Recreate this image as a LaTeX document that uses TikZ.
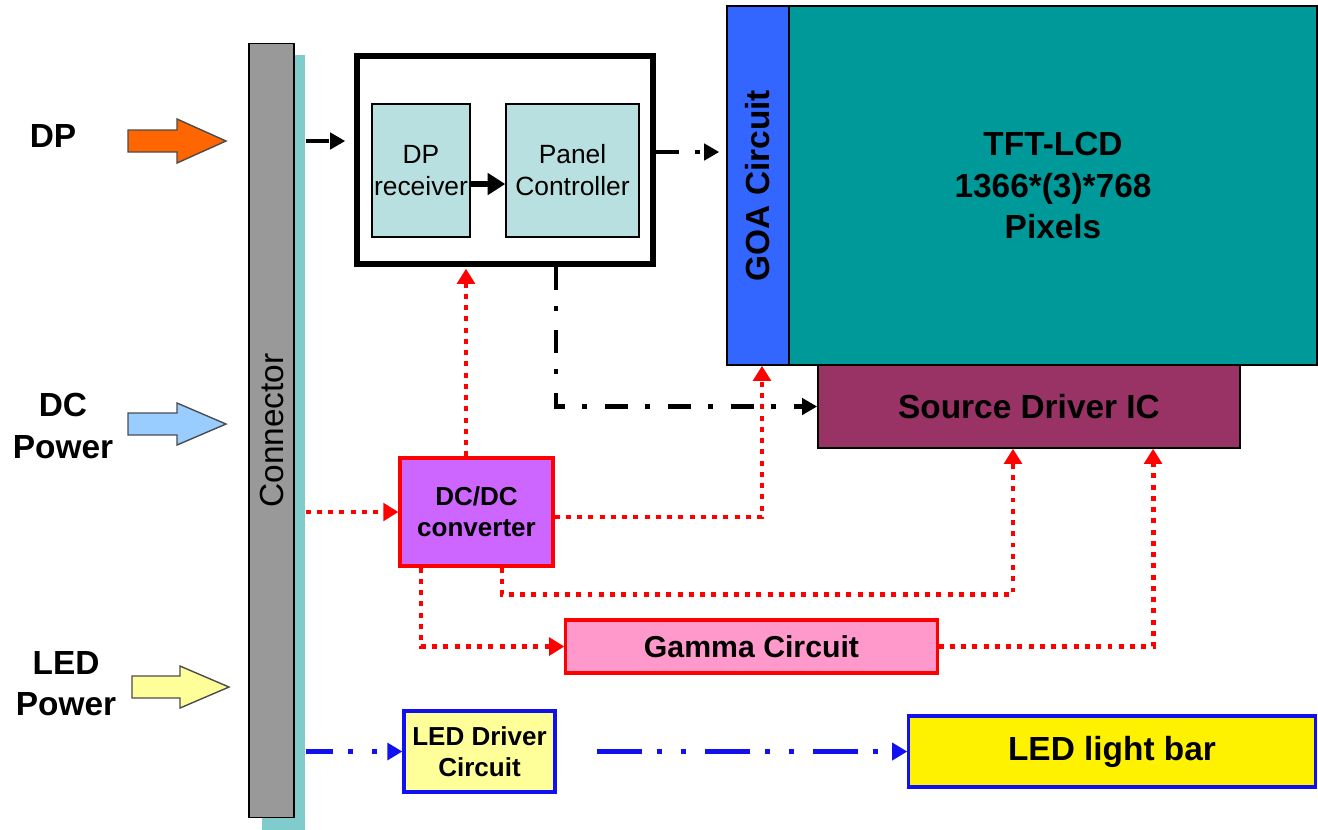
\documentclass[tikz,border=0pt]{standalone}
\usepackage{fontspec}
\setmainfont{Liberation Sans}
\usetikzlibrary{arrows.meta,positioning}

\definecolor{dporange}{HTML}{FF6600}
\definecolor{dcblue}{HTML}{99CCFF}
\definecolor{ledyellow}{HTML}{FFFF99}
\definecolor{conngray}{HTML}{999999}
\definecolor{stripcyan}{HTML}{80CCCC}
\definecolor{rxfill}{HTML}{B8E0E0}
\definecolor{goablue}{HTML}{3366FF}
\definecolor{tftteal}{HTML}{009999}
\definecolor{sdmaroon}{HTML}{993366}
\definecolor{dcpurple}{HTML}{CC66FF}
\definecolor{gammapink}{HTML}{FF99CC}
\definecolor{barblue}{HTML}{1111F0}

\begin{document}
\begin{tikzpicture}
	[
		x=0.01cm, y=-0.01cm,
		bigfont/.style={font=\fontsize{9.5}{11.7}\selectfont\bfseries},
		smallfont/.style={font=\fontsize{7.4}{8.9}\selectfont\bfseries},
		thinfont/.style={font=\fontsize{7.5}{9.1}\selectfont},
		plainbox/.style={rectangle, draw=black, line width=0.4pt, inner sep=0pt, align=center},
		redbox/.style={rectangle, draw=red, line width=0.9pt, inner sep=0pt, align=center},
		bluebox/.style={rectangle, draw=barblue, line width=0.9pt, inner sep=0pt, align=center},
		blockarrow/.style={draw=black!70, line width=0.4pt},
		blackflow/.style={black, line width=1.4pt, dash pattern=on 6.5pt off 4.8pt on 1.4pt off 5.2pt, -{Triangle[length=4.3pt,width=4.6pt]}},
		redflow/.style={red, line width=1.4pt, dash pattern=on 1.4pt off 1.8pt, -{Triangle[length=4.3pt,width=5pt]}},
		blueflow/.style={barblue, line width=1.4pt, dash pattern=on 12.8pt off 4.3pt on 1.4pt off 5.4pt on 1.4pt off 5.4pt, -{Triangle[length=4.3pt,width=4.8pt]}},
	]
	\useasboundingbox (0,0) rectangle (1318,829);

	% inputs
	\node[bigfont] (dp) at (53,136) {DP};
	\node[bigfont, align=center] (dcpower) at (63,426) {DC\\Power};
	\node[bigfont, align=center] (ledpower) at (66,684) {LED\\Power};

	\coordinate (dptip) at (226,141);
	\coordinate (dctip) at (226,424);
	\coordinate (ledtip) at (229,687);
	\draw[blockarrow, fill=dporange] (dptip) -- ++(-49,-22) -- ++(0,11) -- ++(-49,0) -- ++(0,22) -- ++(49,0) -- ++(0,11) -- cycle;
	\draw[blockarrow, fill=dcblue] (dctip) -- ++(-49,-21) -- ++(0,10) -- ++(-49,0) -- ++(0,22) -- ++(49,0) -- ++(0,10) -- cycle;
	\draw[blockarrow, fill=ledyellow] (ledtip) -- ++(-49,-21) -- ++(0,10) -- ++(-48,0) -- ++(0,22) -- ++(48,0) -- ++(0,10) -- cycle;

	% connector
	\node[fill=stripcyan, inner sep=0pt, minimum width=0.43cm, minimum height=7.76cm] (strip) at (283.5,443) {};
	\node[plainbox, fill=conngray, minimum width=0.45cm, minimum height=7.73cm,
		label={[rotate=90, font=\fontsize{9.5}{11}\selectfont]center:Connector}] (connector) at (271.5,430.5) {};

	% timing controller
	\node[rectangle, draw=black, line width=1.5pt, fill=white, minimum width=2.96cm, minimum height=2.08cm] (ctrl) at (505,160) {};
	\node[plainbox, thinfont, fill=rxfill, minimum width=0.98cm, minimum height=1.33cm] (rx) at (421,170.5) {DP\\receiver};
	\node[plainbox, thinfont, fill=rxfill, minimum width=1.33cm, minimum height=1.33cm] (pc) at (572.5,170.5) {Panel\\Controller};

	% panel
	\node[plainbox, fill=goablue, minimum width=0.62cm, minimum height=3.59cm,
		label={[rotate=90, bigfont]center:GOA Circuit}] (goa) at (758,185.5) {};
	\node[plainbox, bigfont, fill=tftteal, minimum width=5.28cm, minimum height=3.59cm] (tft) at (1053,185.5) {TFT-LCD\\1366*(3)*768\\Pixels};
	\node[plainbox, bigfont, fill=sdmaroon, minimum width=4.22cm, minimum height=0.83cm] (sd) at (1029,406.5) {Source Driver IC};

	% power
	\node[redbox, smallfont, fill=dcpurple, minimum width=1.53cm, minimum height=1.08cm] (dcdc) at (476.5,512) {DC/DC\\converter};
	\node[redbox, font=\fontsize{8.6}{10}\selectfont\bfseries, fill=gammapink, minimum width=3.71cm, minimum height=0.53cm] (gamma) at (751.5,646.5) {Gamma Circuit};

	% backlight
	\node[bluebox, smallfont, fill=ledyellow, minimum width=1.51cm, minimum height=0.81cm] (leddrv) at (479.5,751.5) {LED Driver\\Circuit};
	\node[bluebox, bigfont, fill=yellow, minimum width=4.06cm, minimum height=0.71cm] (ledbar) at (1112,751.5) {LED light bar};

	% signal path
	\draw[black, line width=1.6pt, -{Triangle[length=5pt,width=6pt]}] ([yshift=-0.135cm]rx.east) -- ([yshift=-0.135cm]pc.west);
	\draw[blackflow, shorten >=0.09cm] (strip.east |- dptip) -- (ctrl.west |- dptip);
	\draw[blackflow, shorten >=0.07cm] ([yshift=0.08cm]ctrl.east) -- ([yshift=0.08cm]ctrl.east -| goa.west);
	\draw[blackflow] ([xshift=0.51cm]ctrl.south) |- (sd.west);

	% power path
	\draw[redflow] (strip.east |- dcdc.west) -- (dcdc.west);
	\draw[redflow, shorten >=0.02cm] ([xshift=-0.105cm]dcdc.north) -- ([xshift=-0.105cm]dcdc.north |- ctrl.south);
	\draw[redflow] ([yshift=-0.05cm]dcdc.east) -| ([xshift=0.04cm]goa.south);
	\draw[redflow] ([xshift=0.255cm]dcdc.south) -- ++(0,27) -| ([xshift=-0.16cm]sd.south);
	\draw[redflow] ([xshift=-0.555cm]dcdc.south) |- (gamma.west);
	\draw[redflow] (gamma.east) -| ([xshift=1.24cm]sd.south);

	% backlight path
	\draw[blueflow, dash phase=5pt] (strip.east |- leddrv.west) -- (leddrv.west);
	\draw[blueflow, shorten <=0.4cm] (leddrv.east) -- (ledbar.west);

\end{tikzpicture}
\end{document}
